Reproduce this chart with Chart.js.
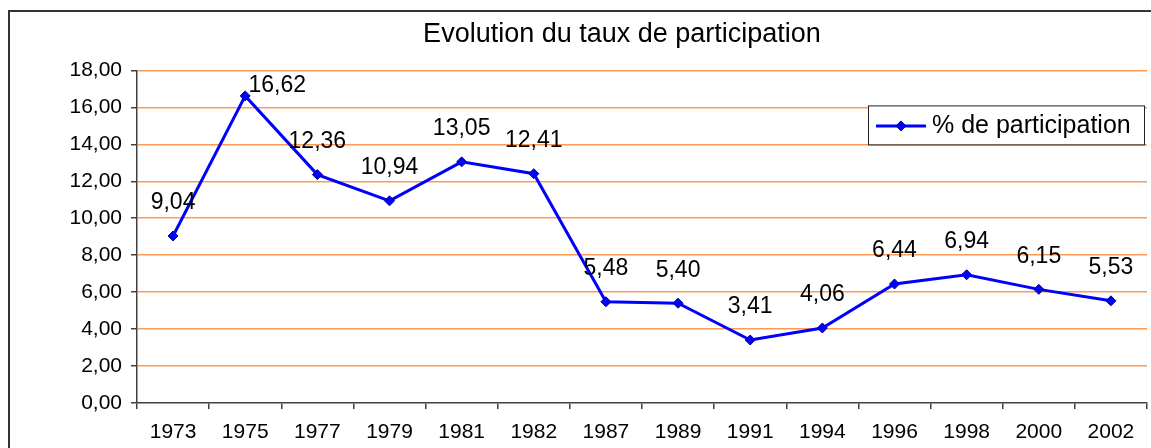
<!DOCTYPE html>
<html>
<head>
<meta charset="utf-8">
<script src="https://cdn.jsdelivr.net/npm/chart.js@4/dist/chart.umd.min.js"></script>
<style>
  html, body { margin: 0; padding: 0; background: #fff; overflow: hidden; }
  #wrap { width: 1244px; height: 448px; }
</style>
</head>
<body>
<div id="wrap"><canvas id="chart" width="1244" height="448"></canvas></div>
<script>
// data
const years = ['1973', '1975', '1977', '1979', '1981', '1982', '1987', '1989', '1991', '1994', '1996', '1998', '2000', '2002'];
const participation = [9.04, 16.62, 12.36, 10.94, 13.05, 12.41, 5.48, 5.40, 3.41, 4.06, 6.44, 6.94, 6.15, 5.53];
const seriesName = '% de participation';
const chartTitle = 'Evolution du taux de participation';
const yMin = 0;
const yMax = 18;
const yStep = 2;

const FONT = "'Liberation Sans', Arial, sans-serif";
const AXIS = '#404040';
const GRID = '#ff9a55';
const BLUE = '#0000ff';

const fmt = (v) => v.toFixed(2).replace('.', ',');

// the 1975 label sits to the right of its point in the original
const labelNudge = { 1: [32, 23] };

const frame = {
  id: 'frame',
  beforeDraw(chart) {
    const { ctx, width, height } = chart;
    ctx.save();
    ctx.fillStyle = '#fff';
    ctx.fillRect(0, 0, width, height);
    ctx.strokeStyle = '#333';
    ctx.lineWidth = 2;
    ctx.strokeRect(9, 11, width - 18, height + 20);
    ctx.restore();
  },
};

// centre the title over the whole (partly hidden) chart frame, not the padded box
const titleCentre = {
  id: 'titleCentre',
  afterLayout(chart) {
    const tb = chart.titleBlock;
    if (!tb) return;
    tb.left = 0;
    tb.right = chart.width;
    tb.width = chart.width;
  },
};

const valueLabels = {
  id: 'valueLabels',
  afterDatasetsDraw(chart) {
    const { ctx } = chart;
    const meta = chart.getDatasetMeta(0);
    const data = chart.data.datasets[0].data;
    ctx.save();
    ctx.font = `23px ${FONT}`;
    ctx.fillStyle = '#000';
    ctx.textAlign = 'center';
    ctx.textBaseline = 'middle';
    meta.data.forEach((pt, i) => {
      const [dx, dy] = labelNudge[i] || [0, 0];
      ctx.fillText(fmt(data[i]), pt.x + dx, pt.y - 33 + dy);
    });
    ctx.restore();
  },
};

const boxLegend = {
  id: 'boxLegend',
  afterDraw(chart) {
    const { ctx, chartArea } = chart;
    const ds = chart.data.datasets[0];
    const right = chartArea.right - 3;
    const left = right - 276;
    const top = chartArea.top + 35;
    const h = 39;
    const cy = top + h / 2 + 1;
    ctx.save();
    ctx.fillStyle = '#fff';
    ctx.fillRect(left, top, right - left, h);
    ctx.strokeStyle = '#222';
    ctx.lineWidth = 1;
    ctx.strokeRect(left + 0.5, top + 0.5, right - left, h);
    ctx.strokeStyle = ds.borderColor;
    ctx.lineWidth = 3;
    ctx.beginPath();
    ctx.moveTo(left + 8, cy);
    ctx.lineTo(left + 58, cy);
    ctx.stroke();
    ctx.fillStyle = ds.pointBackgroundColor;
    ctx.strokeStyle = ds.pointBorderColor;
    ctx.lineWidth = 1;
    ctx.beginPath();
    ctx.moveTo(left + 33, cy - 5);
    ctx.lineTo(left + 38, cy);
    ctx.lineTo(left + 33, cy + 5);
    ctx.lineTo(left + 28, cy);
    ctx.closePath();
    ctx.fill();
    ctx.stroke();
    ctx.font = `25px ${FONT}`;
    ctx.fillStyle = '#000';
    ctx.textAlign = 'left';
    ctx.textBaseline = 'middle';
    ctx.fillText(ds.label, left + 64, cy);
    ctx.restore();
  },
};

new Chart(document.getElementById('chart'), {
  type: 'line',
  data: {
    labels: years,
    datasets: [
      {
        label: seriesName,
        data: participation,
        borderColor: BLUE,
        borderWidth: 3,
        pointStyle: 'rectRot',
        pointRadius: 5,
        pointBackgroundColor: BLUE,
        pointBorderColor: '#00008b',
        pointBorderWidth: 1,
        tension: 0,
      },
    ],
  },
  options: {
    responsive: false,
    animation: false,
    devicePixelRatio: 1,
    layout: { padding: { left: 0, right: 97, top: 0, bottom: 0 } },
    plugins: {
      legend: { display: false },
      tooltip: { enabled: false },
      title: {
        display: true,
        text: chartTitle,
        color: '#000',
        font: { family: FONT, size: 27, weight: 'normal', lineHeight: 1.2 },
        padding: { top: 18, bottom: 20 },
      },
    },
    scales: {
      x: {
        type: 'category',
        offset: true,
        grid: { offset: true, drawOnChartArea: false, tickLength: 6, color: AXIS, lineWidth: 1.5 },
        border: { display: true, color: AXIS, width: 1.5 },
        ticks: { color: '#000', font: { family: FONT, size: 21 }, padding: 11, maxRotation: 0, autoSkip: false },
        afterFit(s) { s.height = 45; },
      },
      y: {
        min: yMin,
        max: yMax,
        grid: {
          color: (c) => (c.tick && c.tick.value === 0 ? 'rgba(0,0,0,0)' : GRID),
          tickColor: AXIS,
          tickLength: 6,
          lineWidth: 1.5,
        },
        border: { display: true, color: AXIS, width: 1.5 },
        ticks: {
          stepSize: yStep,
          color: '#000',
          font: { family: FONT, size: 21 },
          padding: 9,
          callback: (v) => fmt(v),
        },
        afterFit(s) { s.width = 137; },
      },
    },
  },
  plugins: [frame, titleCentre, valueLabels, boxLegend],
});
</script>
</body>
</html>
